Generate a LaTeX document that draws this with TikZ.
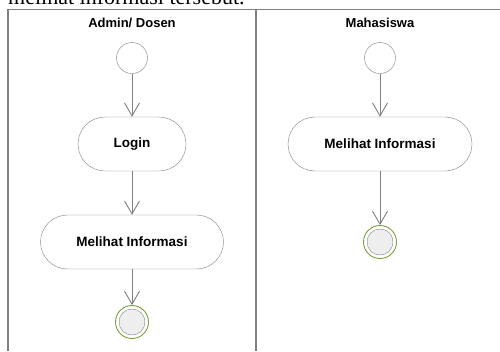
\documentclass[tikz,border=0pt]{standalone}
\usepackage{fontspec}
\setmainfont{Liberation Serif}
\setsansfont{Liberation Sans}
\usetikzlibrary{arrows.meta}
\definecolor{linegray}{RGB}{128,128,128}
\definecolor{endgreen}{RGB}{122,158,58}
\definecolor{endfill}{RGB}{238,238,238}

\begin{document}
\begin{tikzpicture}[x=1pt, y=-1pt, node distance=86pt, auto]
    \tikzstyle{action} = [rectangle, draw=linegray, fill=white, rounded corners=27pt, minimum height=54pt, inner sep=0pt, font=\sffamily\bfseries\fontsize{13.5}{16}\selectfont]
    \tikzstyle{startnode} = [circle, draw=linegray, fill=white, minimum size=31pt, inner sep=0pt]
    \tikzstyle{endnode} = [circle, draw=endgreen, line width=0.9pt, fill=white, minimum size=33pt, inner sep=0pt]
    \tikzstyle{endcore} = [circle, draw=linegray, fill=endfill, minimum size=26pt, inner sep=0pt]
    \tikzstyle{lanetitle} = [anchor=base, inner sep=0pt, font=\sffamily\bfseries\fontsize{13}{15}\selectfont]
    \tikzstyle{flow} = [draw=linegray, line width=0.9pt, -{Straight Barb[length=13pt, width=15pt, line width=0.9pt]}]

    \useasboundingbox (0,0) rectangle (500,351);
    \clip (0,0) rectangle (500,351);

    % page text above the diagram
    \node[anchor=base west, inner sep=0pt, font=\fontsize{22}{26}\selectfont] (pagetext) at (8,4.5) {melihat informasi tersebut.};

    % swimlanes
    \draw[linegray, line width=1.2pt] (8,351) -- (8,9.5) -- (500,9.5);
    \draw[linegray, line width=1.2pt] (256,9.5) -- (256,351);
    \node[lanetitle] (lane1) at (132,27) {Admin/ Dosen};
    \node[lanetitle] (lane2) at (380,27) {Mahasiswa};

    % Admin/ Dosen
    \node[startnode] (start1) at (132,58) {};
    \node[action, minimum width=108pt, below of=start1] (login) {Login};
    \node[action, minimum width=183pt, below of=login, yshift=-12pt] (info1) {Melihat Informasi};
    \node[endnode, below of=info1, yshift=6pt] (end1) {};
    \node[endcore] (core1) at (end1) {};

    % Mahasiswa
    \node[startnode] (start2) at (380,58) {};
    \node[action, minimum width=184pt, below of=start2] (info2) {Melihat Informasi};
    \node[endnode, below of=info2, yshift=-12pt] (end2) {};
    \node[endcore] (core2) at (end2) {};

    \draw[flow] (start1) -- (login);
    \draw[flow] (login) -- (info1);
    \draw[flow] (info1) -- (end1);
    \draw[flow] (start2) -- (info2);
    \draw[flow] (info2) -- (end2);

\end{tikzpicture}
\end{document}
